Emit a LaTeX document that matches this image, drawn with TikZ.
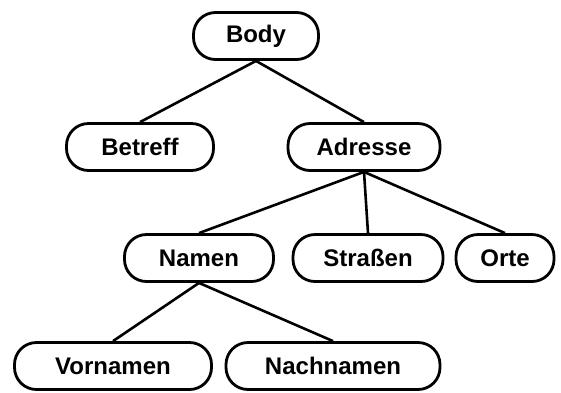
\documentclass[tikz,border=0pt]{standalone}
\usepackage{fontspec}
\setmainfont{Liberation Sans}
\begin{document}
\begin{tikzpicture}[x=1pt,y=-1pt,
  term/.style={draw, line width=2.8pt, rounded corners=22pt, inner sep=0pt,
    minimum height=47pt, font=\fontsize{24}{26}\selectfont\bfseries},
  edge/.style={line width=2.6pt}]
  \useasboundingbox (0,0) rectangle (561,392);
  \node[term, minimum width=125pt] (body) at (256,36) {Body};
  \node[term, minimum width=147pt] (betreff) at (140,147) {Betreff};
  \node[term, minimum width=152pt] (adresse) at (364,147) {Adresse};
  \node[term, minimum width=149pt] (namen) at (199,258) {Namen};
  \node[term, minimum width=150pt] (strassen) at (368,258) {Straßen};
  \node[term, minimum width=98pt] (orte) at (505,258) {Orte};
  \node[term, minimum width=197pt] (vornamen) at (113,366) {Vornamen};
  \node[term, minimum width=214pt] (nachnamen) at (333,366) {Nachnamen};
  \draw[edge] (body.south) -- (betreff.north);
  \draw[edge] (body.south) -- (adresse.north);
  \draw[edge] (adresse.south) -- (namen.north);
  \draw[edge] (adresse.south) -- (strassen.north);
  \draw[edge] (adresse.south) -- (orte.north);
  \draw[edge] (namen.south) -- (vornamen.north);
  \draw[edge] (namen.south) -- (nachnamen.north);
\end{tikzpicture}
\end{document}
